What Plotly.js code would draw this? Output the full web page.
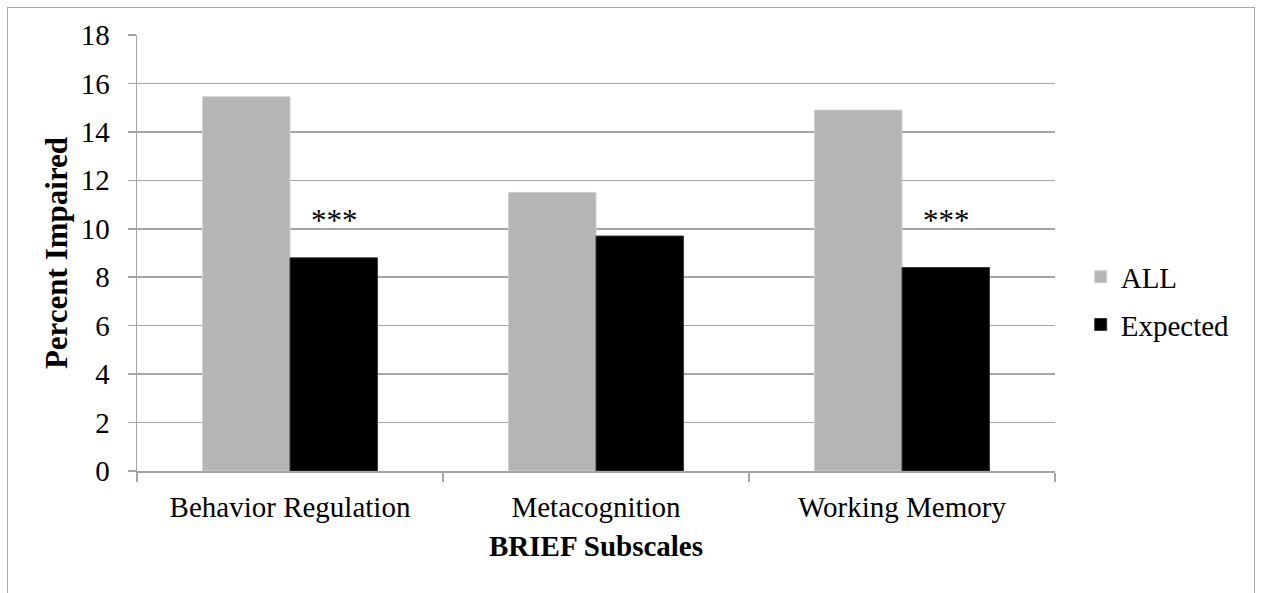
<!DOCTYPE html>
<html>
<head>
<meta charset="utf-8">
<script src="https://cdn.plot.ly/plotly-3.0.1.min.js"></script>
<style>
  html, body { margin: 0; padding: 0; background: #fff; overflow: hidden; }
  #wrap { position: relative; width: 1263px; height: 593px; }
  #frame { position: absolute; left: 7px; top: 7px; width: 1248px; height: 620px; border: 1.5px solid #a9a9a9; box-sizing: border-box; pointer-events: none; }
  #chart { position: absolute; left: 0; top: 0; width: 1263px; height: 593px; }
</style>
</head>
<body>
<div id="wrap">
  <div id="chart"></div>
  <div id="frame"></div>
</div>
<script>
const categories = ["Behavior Regulation", "Metacognition", "Working Memory"];
const allValues = [15.45, 11.5, 14.9];
const expectedValues = [8.8, 9.7, 8.4];
const significance = ["***", "", "***"];
const yTickValues = [0, 2, 4, 6, 8, 10, 12, 14, 16, 18];

const fontFamily = "'Liberation Serif', 'Times New Roman', serif";
const gridColor = "#a6a6a6";

const traces = [
  { type: "bar", name: "ALL", x: categories, y: allValues, legendgroup: "a",
    marker: { color: "#b5b5b5", line: { color: "#cfcfcf", width: 1 } }, hoverinfo: "x+y" },
  { type: "bar", name: "Expected", x: categories, y: expectedValues, legendgroup: "b",
    marker: { color: "#000000", line: { color: "#333333", width: 1 } }, hoverinfo: "x+y" }
];

const annotations = [];
categories.forEach((c, i) => {
  if (significance[i]) {
    annotations.push({
      x: c, y: 10.36, xref: "x", yref: "y",
      text: significance[i], showarrow: false,
      xanchor: "center", yanchor: "middle", xshift: 44,
      font: { family: fontFamily, size: 31, color: "#000" }
    });
  }
});

const layout = {
  width: 1263, height: 593,
  margin: { l: 137, r: 208, t: 35, b: 122, pad: 0 },
  paper_bgcolor: "#ffffff", plot_bgcolor: "#ffffff",
  font: { family: fontFamily, size: 29, color: "#000" },
  barmode: "group", bargap: 0.4286, bargroupgap: 0,
  showlegend: true,
  legend: { x: 1.028, xanchor: "left", y: 0.39, yanchor: "middle",
            font: { family: fontFamily, size: 29, color: "#000" },
            bgcolor: "rgba(0,0,0,0)", traceorder: "grouped", tracegroupgap: 7 },
  xaxis: {
    type: "category", showgrid: false, showline: true, linecolor: gridColor, linewidth: 1.5,
    ticks: "outside", tickson: "boundaries", ticklen: 9, tickcolor: gridColor, tickwidth: 1.5,
    ticklabelstandoff: 10,
    tickfont: { family: fontFamily, size: 29, color: "#000" },
    title: { text: "<b>BRIEF Subscales</b>", font: { family: fontFamily, size: 29, color: "#000" }, standoff: 13 },
    fixedrange: true
  },
  yaxis: {
    range: [0, 18], tickvals: yTickValues, ticktext: yTickValues.map(String),
    showgrid: true, gridcolor: gridColor, gridwidth: 1.5,
    showline: true, linecolor: gridColor, linewidth: 1.5, zeroline: false,
    ticks: "outside", ticklen: 8, tickcolor: gridColor, tickwidth: 1.5,
    ticklabelstandoff: 12,
    tickfont: { family: fontFamily, size: 29, color: "#000" },
    title: { text: "<b>Percent Impaired</b>", font: { family: fontFamily, size: 31, color: "#000" }, standoff: 4 },
    fixedrange: true
  },
  annotations: annotations
};

Plotly.newPlot("chart", traces, layout, { displayModeBar: false, staticPlot: true });
</script>
</body>
</html>
